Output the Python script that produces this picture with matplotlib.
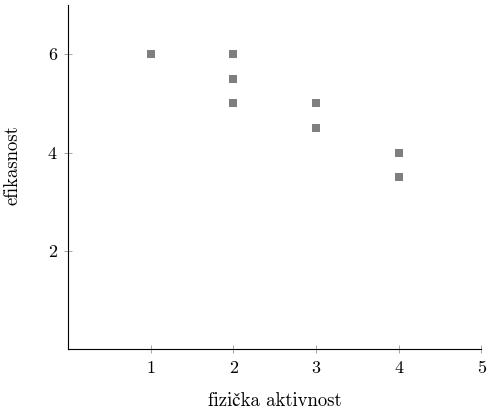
import matplotlib
matplotlib.use("Agg")
import matplotlib.pyplot as plt

plt.rcParams['font.family'] = ['cmr10', 'STIXGeneral']
plt.rcParams['mathtext.fontset'] = 'cm'
plt.rcParams['axes.formatter.use_mathtext'] = True

activity = [1, 2, 2, 2, 3, 3, 4, 4]
efficiency = [6, 6, 5.5, 5, 5, 4.5, 4, 3.5]
x_ticks = [1, 2, 3, 4, 5]
y_ticks = [2, 4, 6]

fig = plt.figure(figsize=(4.87, 4.13), dpi=100)
ax = fig.add_axes([0.1396, 0.154, 0.849, 0.834])

ax.plot(activity, efficiency, linestyle='none', marker='s', markersize=6.3,
        color='#7f7f7f', markeredgewidth=0)

ax.set_xlim(0, 5)
ax.set_ylim(0, 7)
ax.set_xticks(x_ticks)
ax.set_yticks(y_ticks)
ax.set_xticklabels([str(t) for t in x_ticks])
ax.set_yticklabels([str(t) for t in y_ticks])

for s in ['top', 'right']:
    ax.spines[s].set_visible(False)
for s in ['left', 'bottom']:
    ax.spines[s].set_linewidth(0.8)
    ax.spines[s].set_color('black')

ax.tick_params(direction='inout', length=6, width=0.5, color='#808080',
               labelsize=13, pad=5)

ax.set_xlabel('fizička aktivnost', fontsize=13.5, labelpad=12)
ax.set_ylabel('efikasnost', fontsize=13.5)
ax.yaxis.set_label_coords(-0.113, 0.536)

fig.savefig('out.png', dpi=100)
